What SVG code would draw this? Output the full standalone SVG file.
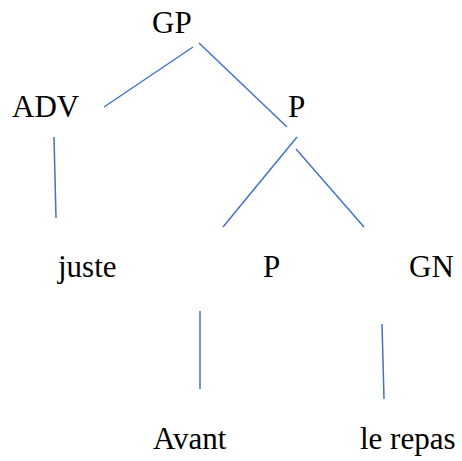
<svg xmlns="http://www.w3.org/2000/svg" width="462" height="461" viewBox="0 0 462 461">
  <style>
    .edge { stroke: #4472C4; stroke-width: 1.5; fill: none; }
  </style>
  <rect width="462" height="461" fill="#fff"/>
  <g id="connectors">
    <line class="edge" x1="193" y1="47" x2="104" y2="107"/>
    <line class="edge" x1="199" y1="43" x2="287" y2="127"/>
    <line class="edge" x1="54" y1="137" x2="56" y2="218"/>
    <line class="edge" x1="297" y1="137" x2="223" y2="227"/>
    <line class="edge" x1="296" y1="149" x2="364" y2="227"/>
    <line class="edge" x1="200" y1="311" x2="200" y2="389"/>
    <line class="edge" x1="382" y1="324" x2="384" y2="399"/>
  </g>
  <g id="node-gp"><text x="152" y="33" font-family="Liberation Serif" font-size="31">GP</text></g>
  <g id="node-adv"><text x="12" y="117" font-family="Liberation Serif" font-size="31">ADV</text></g>
  <g id="node-p1"><text x="288" y="117" font-family="Liberation Serif" font-size="31">P</text></g>
  <g id="node-juste"><text x="58" y="277" font-family="Liberation Serif" font-size="31">juste</text></g>
  <g id="node-p2"><text x="263" y="277" font-family="Liberation Serif" font-size="31">P</text></g>
  <g id="node-gn"><text x="409" y="277" font-family="Liberation Serif" font-size="31">GN</text></g>
  <g id="node-avant"><text x="153" y="449" font-family="Liberation Serif" font-size="31">Avant</text></g>
  <g id="node-lerepas"><text x="360" y="449" font-family="Liberation Serif" font-size="31">le repas</text></g>
</svg>
